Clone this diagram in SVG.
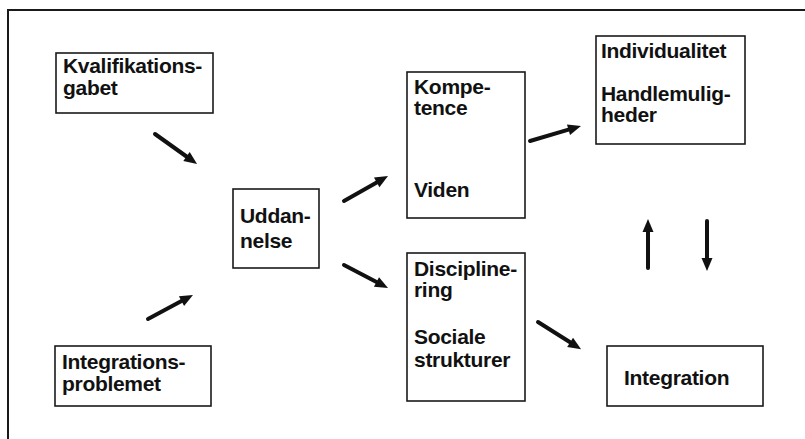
<svg xmlns="http://www.w3.org/2000/svg" width="805" height="439" viewBox="0 0 805 439">
<style>
  .box { fill: #fff; stroke: #1a1a1a; stroke-width: 1.6; }
  .t { font-family: "Liberation Sans", Arial, sans-serif; font-weight: bold; font-size: 21px; fill: #111; letter-spacing: -0.3px; }
  .arr { stroke: #111; stroke-width: 4; fill: none; stroke-linecap: round; marker-end: url(#ah); }
</style>
<defs>
  <marker id="ah" markerUnits="userSpaceOnUse" orient="auto" refX="0" refY="0" markerWidth="14" markerHeight="12" overflow="visible">
    <path d="M0,-5.5 L13,0 L0,5.5 Z" fill="#111"/>
  </marker>
</defs>
<rect x="0" y="0" width="805" height="439" fill="#fff"/>
<path d="M8,439 V10 H805" fill="none" stroke="#1a1a1a" stroke-width="2"/>

<g id="kvalifikationsgabet">
  <rect class="box" x="56" y="53" width="157" height="60"/>
  <text class="t" x="63" y="73">Kvalifikations-</text>
  <text class="t" x="63" y="95">gabet</text>
</g>
<g id="integrationsproblemet">
  <rect class="box" x="55" y="346" width="156" height="60"/>
  <text class="t" x="62" y="369">Integrations-</text>
  <text class="t" x="62" y="391">problemet</text>
</g>
<g id="uddannelse">
  <rect class="box" x="233" y="189" width="86" height="79"/>
  <text class="t" x="240" y="223">Uddan-</text>
  <text class="t" x="240" y="248">nelse</text>
</g>
<g id="kompetence">
  <rect class="box" x="407" y="72" width="118" height="146"/>
  <text class="t" x="414" y="94">Kompe-</text>
  <text class="t" x="414" y="115">tence</text>
  <text class="t" x="414" y="197">Viden</text>
</g>
<g id="disciplinering">
  <rect class="box" x="407" y="253" width="118" height="148"/>
  <text class="t" x="414" y="276">Discipline-</text>
  <text class="t" x="414" y="297">ring</text>
  <text class="t" x="414" y="344">Sociale</text>
  <text class="t" x="414" y="367">strukturer</text>
</g>
<g id="individualitet">
  <rect class="box" x="596" y="36" width="149" height="108"/>
  <text class="t" x="601" y="58">Individualitet</text>
  <text class="t" x="601" y="101">Handlemulig-</text>
  <text class="t" x="601" y="122">heder</text>
</g>
<g id="integration">
  <rect class="box" x="607" y="346" width="156" height="60"/>
  <text class="t" x="624" y="385">Integration</text>
</g>

<g id="connectors">
  <line class="arr" x1="155" y1="134" x2="186.5" y2="156.5"/>
  <line class="arr" x1="148" y1="319" x2="181.5" y2="301.1"/>
  <line class="arr" x1="344" y1="201" x2="376.7" y2="182.4"/>
  <line class="arr" x1="344" y1="265" x2="376.5" y2="282"/>
  <line class="arr" x1="530" y1="141" x2="568.5" y2="129.7"/>
  <line class="arr" x1="538" y1="322" x2="570.1" y2="342.3"/>
  <line class="arr" x1="648" y1="268" x2="648" y2="232"/>
  <line class="arr" x1="707" y1="221" x2="707" y2="258"/>
</g>
</svg>
